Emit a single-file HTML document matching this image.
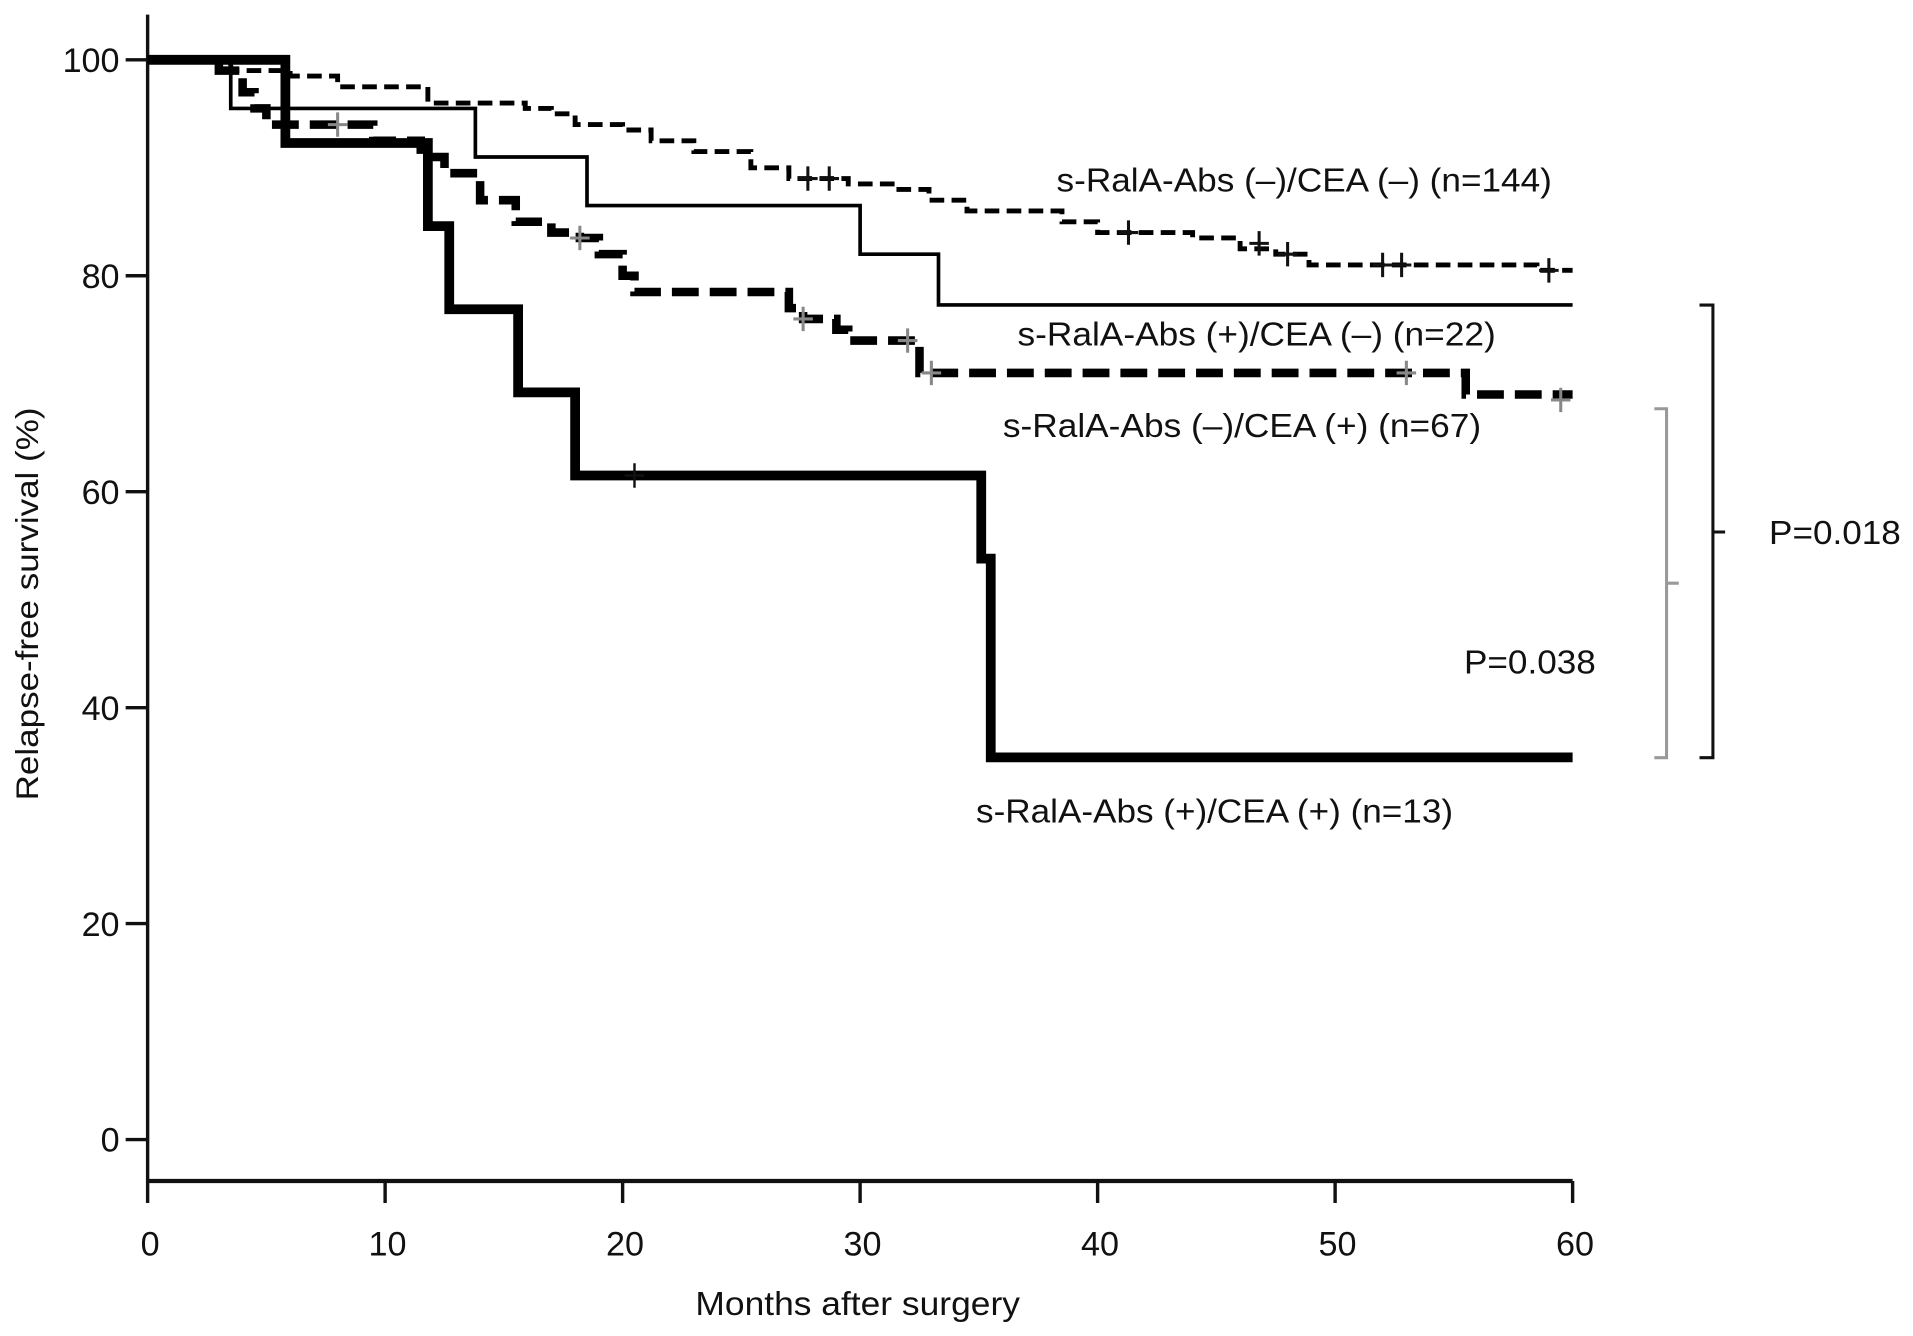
<!DOCTYPE html>
<html><head><meta charset="utf-8"><style>
html,body{margin:0;padding:0;background:#fff;}
svg{display:block;}
text{font-family:"Liberation Sans",sans-serif;fill:#111;}
</style></head><body>
<svg id="chart" width="1913" height="1336" viewBox="0 0 1568 1095" xmlns="http://www.w3.org/2000/svg">
<g id="axes"></g>
<g id="series"></g>
<g id="annot">
<text x="866" y="157" font-size="27" textLength="406" lengthAdjust="spacingAndGlyphs">s-RalA-Abs (–)/CEA (–) (n=144)</text>
<text x="834" y="283" font-size="27" textLength="392" lengthAdjust="spacingAndGlyphs">s-RalA-Abs (+)/CEA (–) (n=22)</text>
<text x="822" y="358" font-size="27" textLength="392" lengthAdjust="spacingAndGlyphs">s-RalA-Abs (–)/CEA (+) (n=67)</text>
<text x="800" y="674" font-size="27" textLength="391" lengthAdjust="spacingAndGlyphs">s-RalA-Abs (+)/CEA (+) (n=13)</text>
<path d="M1356,335 H1366 V621 H1356 M1366,478 H1376" fill="none" stroke="#999" stroke-width="2.5"/>
<path d="M1393,250 H1404 V621 H1393 M1404,436 H1414" fill="none" stroke="#111" stroke-width="2.5"/>
<text x="1450" y="446" font-size="27" textLength="108" lengthAdjust="spacingAndGlyphs">P=0.018</text>
<text x="1200" y="552" font-size="27" textLength="108" lengthAdjust="spacingAndGlyphs">P=0.038</text>
<text x="703" y="1078" font-size="27" text-anchor="middle" textLength="266" lengthAdjust="spacingAndGlyphs">Months after surgery</text>
<text transform="translate(31,495) rotate(-90)" font-size="26" text-anchor="middle" textLength="322" lengthAdjust="spacingAndGlyphs">Relapse-free survival (%)</text>
</g>
</svg>
<script>
const xTicks=[0,10,20,30,40,50,60];
const yTicks=[0,20,40,60,80,100];
const aTimes=[0,3.5,6,8,11.8,15.9,17,18,20,21.2,23,25.4,27,29.5,31.5,32.9,34.5,38.5,40,44,46,47.5,48.9,58.5,60];
const aVals=[100,99,98.5,97.5,96,95.5,95,94,93.5,92.5,91.5,90,89,88.5,88,87,86,85,84,83.5,82.5,82,81,80.5,80.5];
const aCensT=[27.8,28.7,41.3,46.8,48,52,52.8,59];
const aCensV=[89,89,84,83,82,81,81,80.5];
const bTimes=[0,3.5,13.8,18.5,30,33.3,60];
const bVals=[100,95.5,91,86.5,82,77.3,77.3];
const cTimes=[0,3,4,4.5,5,6,9.5,11.5,12.5,14,15.5,17,18.2,19,20,20.5,26,27,27.6,29,29.5,32.5,55.5,60];
const cVals=[100,99,97,95.5,94,94,92.5,91,89.5,87,85,84,83.5,82,80,78.5,78.5,77,76,75,74,71,69,69];
const cCensT=[8,18.2,27.6,32,33,53,59.5];
const cCensV=[94,83.5,76,74,71,71,68.5];
const dTimes=[0,5.8,11.8,12.7,15.6,18,35.1,35.5,60];
const dVals=[100,92.3,84.6,76.9,69.2,61.5,53.8,35.4,35.4];
const dCensT=[20.5];
const dCensV=[61.5];

const X=t=>121+t*(1289-121)/60;
const Y=v=>934-v*(934-49)/100;
const NS='http://www.w3.org/2000/svg';
function mk(tag,attrs,parent){const e=document.createElementNS(NS,tag);for(const k in attrs)e.setAttribute(k,attrs[k]);parent.appendChild(e);return e;}
const axes=document.getElementById('axes');
let yl=mk('line',{x1:121,y1:12,x2:121,y2:968,stroke:'#111','stroke-width':2.8},axes);


let xl=mk('line',{x1:121,y1:968,x2:1289,y2:968,stroke:'#111','stroke-width':3.5},axes);


xTicks.forEach(t=>{
 let l=mk('line',{x1:X(t),y1:968,x2:X(t),y2:986,stroke:'#111','stroke-width':2.8},axes);
 
 
 let tx=mk('text',{x:X(t)+2,y:1029,'font-size':28,'text-anchor':'middle'},axes);
 tx.textContent=t;
 
 
});
yTicks.forEach(v=>{
 let l=mk('line',{x1:103,y1:Y(v),x2:121,y2:Y(v),stroke:'#111','stroke-width':2.8},axes);
 
 
 let tx=mk('text',{x:98,y:Y(v)+10,'font-size':28,'text-anchor':'end'},axes);
 tx.textContent=v;
 
 
});
const ser=document.getElementById('series');
function stepPath(ts,vs){let d='M'+X(ts[0])+','+Y(vs[0]);for(let i=1;i<ts.length;i++){d+=' H'+X(ts[i])+' V'+Y(vs[i]);}return d;}
function drawSeries(name,ts,vs,w,dash){
 const p=mk('path',{d:stepPath(ts,vs),fill:'none',stroke:'#000','stroke-width':w},ser);
 if(dash)p.setAttribute('stroke-dasharray',dash);
 
 
}
function drawCens(name,ts,vs,col,w){
 ts.forEach((t,i)=>{
  const p=mk('path',{d:'M'+(X(t)-8)+','+Y(vs[i])+' h16 M'+X(t)+','+(Y(vs[i])-10)+' v20',stroke:col,'stroke-width':w,fill:'none'},ser);
  
  
 });
}
drawSeries('curve-neg-neg',aTimes,aVals,4,'12 6');
drawSeries('curve-pos-neg',bTimes,bVals,3,null);
drawSeries('curve-neg-pos',cTimes,cVals,7,'22 9');
drawSeries('curve-pos-pos',dTimes,dVals,8,null);
drawCens('censor-neg-neg',aCensT,aCensV,'#111',2.5);
drawCens('censor-neg-pos',cCensT,cCensV,'#888',2.5);
drawCens('censor-pos-pos',dCensT,dCensV,'#111',2);
</script>
</body></html>
